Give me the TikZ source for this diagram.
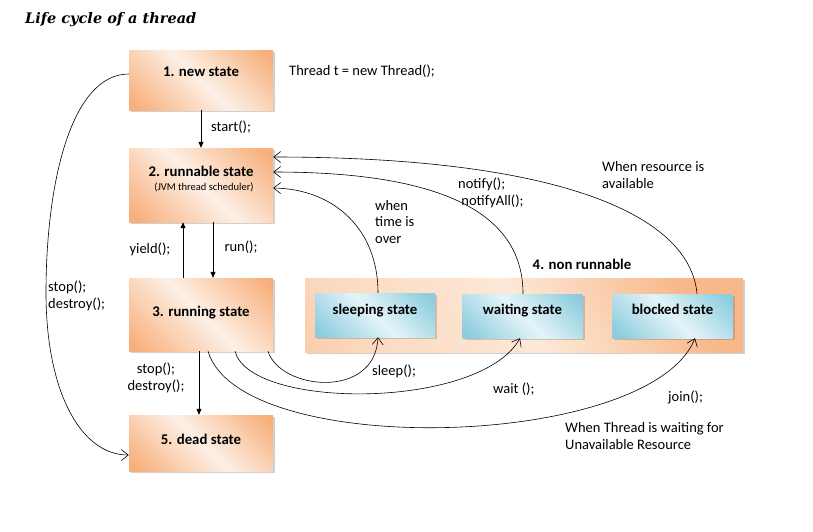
\documentclass[tikz,border=0pt]{standalone}
\usepackage{fontspec}
\setmainfont{Carlito}
\newfontfamily\titlefont{DejaVu Serif}
\usetikzlibrary{arrows.meta,shadows}
\definecolor{orD}{RGB}{247,176,124}
\definecolor{orL}{RGB}{253,240,230}
\definecolor{blD}{RGB}{140,204,222}
\definecolor{blL}{RGB}{228,244,248}
\definecolor{nrD}{RGB}{248,184,138}
\definecolor{nrL}{RGB}{253,232,215}
\pgfdeclarehorizontalshading{orsh}{100bp}{color(0bp)=(orD); color(18bp)=(orD); color(50bp)=(orL); color(82bp)=(orD); color(100bp)=(orD)}
\pgfdeclarehorizontalshading{blsh}{100bp}{color(0bp)=(blD); color(18bp)=(blD); color(50bp)=(blL); color(82bp)=(blD); color(100bp)=(blD)}
\pgfdeclarehorizontalshading{nrsh}{100bp}{color(0bp)=(nrD); color(25bp)=(nrL!70!nrD); color(50bp)=(nrL); color(75bp)=(nrD); color(100bp)=(nrD)}
\begin{document}
\begin{tikzpicture}[x=1pt,y=-1pt,
  shadowed/.style={drop shadow={shadow xshift=2pt,shadow yshift=-2pt,opacity=0.3,fill=black!60}},
  obox/.style={shadowed,shading=orsh,shading angle=45,minimum width=144pt,inner sep=0pt},
  nbox/.style={shadowed,shading=nrsh,shading angle=30,inner sep=0pt},
  bbox/.style={shadowed,shading=blsh,shading angle=45,minimum width=120pt,minimum height=44pt,inner sep=0pt},
  btxt/.style={font=\fontsize{14.8}{17}\selectfont\bfseries,inner sep=0pt},
  ltxt/.style={font=\fontsize{14.5}{16.5}\selectfont,inner sep=0pt,align=left},
  ctxt/.style={font=\fontsize{14.5}{16.5}\selectfont,inner sep=0pt,align=center},
  sarrow/.style={-{Triangle[length=6pt,width=5pt]},line width=0.8pt},
  carrow/.style={-{Straight Barb[length=7pt,width=11pt]},line width=0.6pt}]
\useasboundingbox (0,0) rectangle (813,531);
\fill[white] (0,0) rectangle (813,531);

\node[anchor=west,inner sep=0pt,font=\titlefont\fontsize{14.5}{18}\selectfont\bfseries\itshape] (title) at (25,20) {Life cycle of a thread};

% state boxes
\node[obox,minimum height=60pt] (new) at (201,80) {};
\node[btxt] (newt) at (201,72) {1. new state};
\node[obox,minimum height=74pt] (runnable) at (201,185) {};
\node[btxt] (runnablet) at (201,171) {2. runnable state};
\node[ctxt,font=\fontsize{10.5}{12}\selectfont] (runnables) at (204,187) {(JVM thread scheduler)};
\node[obox,minimum height=73pt] (running) at (201,314.5) {};
\node[btxt] (runningt) at (201,313) {3. running state};
\node[obox,minimum height=56pt] (dead) at (201,443) {};
\node[btxt] (deadt) at (201,439) {5. dead state};

% non runnable group
\node[nbox,minimum width=438pt,minimum height=74pt] (nonrun) at (524,315) {};
\node[btxt] (nonrunt) at (582,264) {4. non runnable};
\node[bbox] (sleep) at (375,315) {};
\node[btxt] (sleept) at (375,311) {sleeping state};
\node[bbox] (wait) at (522.5,316) {};
\node[btxt] (waitt) at (522.5,311) {waiting state};
\node[bbox] (block) at (672.5,316) {};
\node[btxt] (blockt) at (672.5,309) {blocked state};

% texts
\node[ltxt,anchor=west] (code) at (289,71) {Thread t = new Thread();};
\node[ltxt,anchor=west] (startl) at (211,127) {start();};
\node[ctxt] (yieldl) at (150,249) {yield();};
\node[ctxt] (runl) at (241,247) {run();};
\node[ctxt] (stopl) at (156,378) {stop();\\destroy();};
\node[ltxt,anchor=west] (stopl2) at (48,296) {stop();\\destroy();};
\node[ltxt,anchor=west] (timel) at (375,222) {when\\time is\\over};
\node[ltxt,anchor=west] (notifyl) at (458,193) {notify();\\\ notifyAll();};
\node[ltxt,anchor=west] (resl) at (602,175) {When resource is\\available};
\node[ltxt,anchor=west] (sleepl) at (372,371) {sleep();};
\node[ltxt,anchor=west] (waitl) at (493,389) {wait ();};
\node[ltxt,anchor=west] (joinl) at (668,397) {join();};
\node[ltxt,anchor=west] (unavl) at (565,436) {When Thread is waiting for\\Unavailable Resource};

% straight arrows
\draw[sarrow] (new.south) -- (runnable.north);
\draw[sarrow] ([xshift=-18pt]running.north) -- ([xshift=-18pt]runnable.south);
\draw[sarrow] ([xshift=12pt]runnable.south) -- ([xshift=12pt]running.north);
\draw[sarrow] ([xshift=-2pt]running.south) -- ([xshift=-2pt]dead.north);

% curved arrows
\draw[carrow] ([yshift=6pt]new.west) .. controls (72,74) and (46,180) .. (46,293)
   .. controls (46,390) and (80,455) .. ([yshift=-12pt]dead.west);
\draw[carrow] ([xshift=3pt]sleep.north) .. controls (378,230) and (335,189) .. ([yshift=-3pt]runnable.east);
\draw[carrow] ([xshift=0.5pt]wait.north) .. controls (523,212) and (440,172) .. ([yshift=13pt]runnable.east);
\draw[carrow] ([xshift=24.5pt]block.north) .. controls (690,215) and (560,157) .. ([yshift=28pt]runnable.east);
\draw[carrow] ([xshift=67pt]running.south) .. controls (280,390) and (375,400) .. ([xshift=3pt]sleep.south);
\draw[carrow] ([xshift=34pt]running.south) .. controls (250,410) and (480,410) .. ([xshift=-2.5pt]wait.south);
\draw[carrow] ([xshift=7pt]running.south) .. controls (240,460) and (650,450) .. ([xshift=22.5pt]block.south);
\end{tikzpicture}
\end{document}
